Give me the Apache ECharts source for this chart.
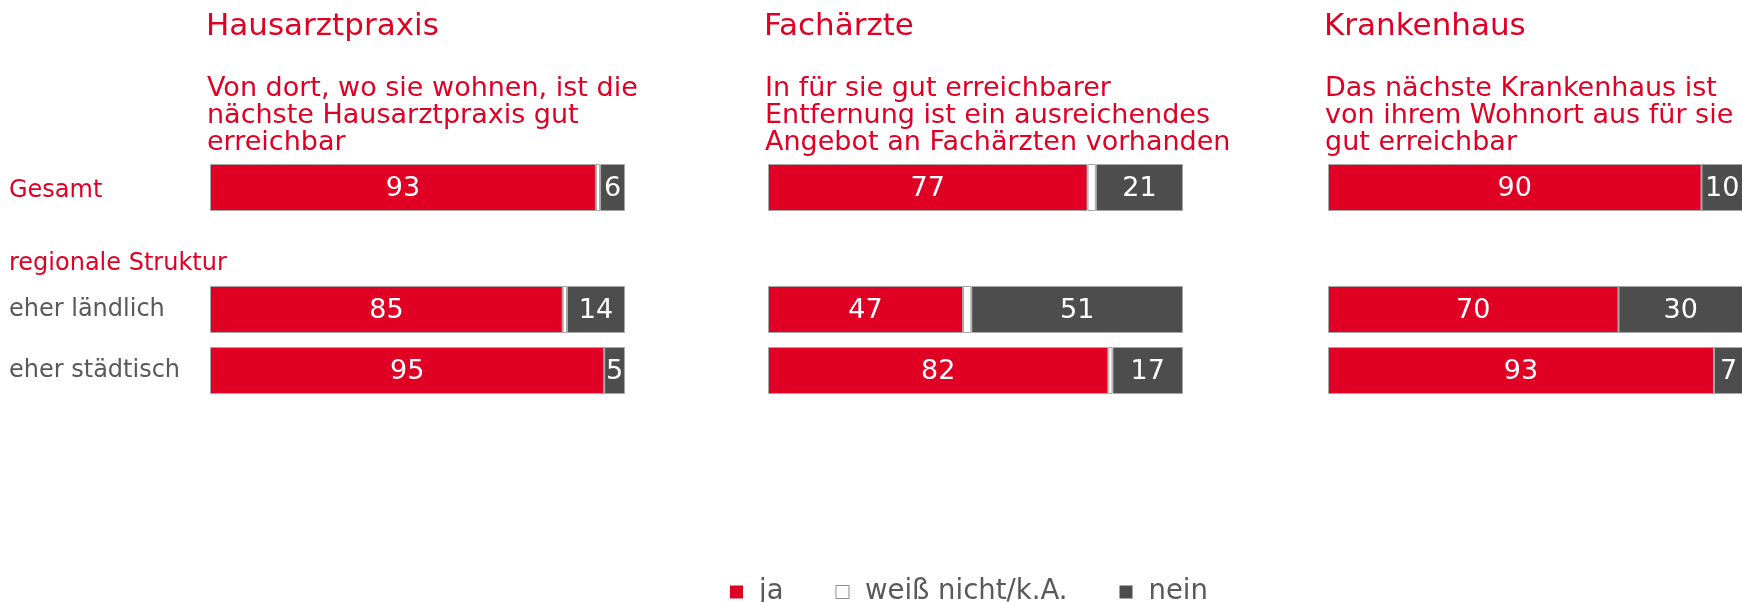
<!DOCTYPE html>
<html>
<head>
<meta charset="utf-8">
<script src="https://cdn.jsdelivr.net/npm/echarts@6/dist/echarts.min.js"></script>
<style>
  html, body { margin: 0; padding: 0; background: #fff; }
  #chart { width: 1742px; height: 602px; }
</style>
</head>
<body>
<div id="chart"></div>
<script>
// Daten
const categories = ['Gesamt', 'regionale Struktur', 'eher ländlich', 'eher städtisch']
const panelTitles = ['Hausarztpraxis', 'Fachärzte', 'Krankenhaus']
const panelQuestions = [
  'Von dort, wo sie wohnen, ist die\nnächste Hausarztpraxis gut\nerreichbar',
  'In für sie gut erreichbarer\nEntfernung ist ein ausreichendes\nAngebot an Fachärzten vorhanden',
  'Das nächste Krankenhaus ist\nvon ihrem Wohnort aus für sie\ngut erreichbar'
]
const legendNames = ['ja', 'weiß nicht/k.A.', 'nein']

const jaHausarzt = [93, null, 85, 95]
const wnHausarzt = [1, null, 1, 0]
const neinHausarzt = [6, null, 14, 5]

const jaFacharzt = [77, null, 47, 82]
const wnFacharzt = [2, null, 2, 1]
const neinFacharzt = [21, null, 51, 17]

const jaKrankenhaus = [90, null, 70, 93]
const wnKrankenhaus = [0, null, 0, 0]
const neinKrankenhaus = [10, null, 30, 7]

const panels = [
  [jaHausarzt, wnHausarzt, neinHausarzt],
  [jaFacharzt, wnFacharzt, neinFacharzt],
  [jaKrankenhaus, wnKrankenhaus, neinKrankenhaus]
]

const RED = '#E00024'
const DARK = '#4D4D4D'
const GRAY_TEXT = '#595959'
const BORDER = '#A6A6A6'
const FONT = 'DejaVu Sans'
const panelLeft = [210, 768, 1328]

const myChart = echarts.init(document.getElementById('chart'))

const titles = []
const grids = []
const xAxes = []
const yAxes = []
const series = []

panels.forEach((p, i) => {
  titles.push({
    text: panelTitles[i],
    left: panelLeft[i] - 4,
    top: 11,
    padding: 0,
    textStyle: { color: RED, fontSize: 31, fontWeight: 'normal', fontFamily: FONT, lineHeight: 31 }
  })
  titles.push({
    text: panelQuestions[i],
    left: panelLeft[i] - 3,
    top: 75,
    padding: 0,
    textStyle: { color: RED, fontSize: 27, fontWeight: 'normal', fontFamily: FONT, lineHeight: 27 }
  })
  grids.push({ left: panelLeft[i], width: 415, top: 157, height: 244, outerBoundsMode: 'none', containLabel: false })
  xAxes.push({ type: 'value', gridIndex: i, min: 0, max: 100, show: false })
  yAxes.push({
    type: 'category',
    gridIndex: i,
    inverse: true,
    data: categories,
    axisLine: { show: false },
    axisTick: { show: false },
    splitLine: { show: false },
    axisLabel: {
      show: i === 0,
      align: 'left',
      margin: panelLeft[0] - 9,
      fontSize: 24,
      fontFamily: FONT,
      color: GRAY_TEXT,
      formatter: function (v) {
        if (v === 'Gesamt') return '{g|' + v + '}'
        if (v === 'regionale Struktur') return '{r|' + v + '}'
        return v
      },
      rich: {
        g: { fontSize: 24, fontFamily: FONT, color: RED, align: 'left', padding: [7, 0, 0, 0] },
        r: { fontSize: 24, fontFamily: FONT, color: RED, align: 'left', padding: [31, 0, 0, 0] }
      }
    }
  })
  const colors = [RED, '#FFFFFF', DARK]
  p.forEach((vals, s) => {
    series.push({
      name: legendNames[s],
      type: 'bar',
      stack: 'p' + i,
      xAxisIndex: i,
      yAxisIndex: i,
      barWidth: 47,
      data: vals,
      itemStyle: { color: colors[s], borderColor: BORDER, borderWidth: 1 },
      label: {
        show: s !== 1,
        position: 'inside',
        offset: [0, 1],
        color: '#fff',
        fontSize: 27,
        fontFamily: FONT,
        formatter: function (params) {
          return params.value ? params.value : ''
        }
      },
      emphasis: { disabled: true }
    })
  })
})

myChart.setOption({
  animation: false,
  title: titles,
  grid: grids,
  xAxis: xAxes,
  yAxis: yAxes,
  legend: {
    data: [
      { name: 'ja', itemStyle: { borderWidth: 0 } },
      { name: 'weiß nicht/k.A.', itemStyle: { borderColor: '#8C8C8C', borderWidth: 1 } },
      { name: 'nein', itemStyle: { borderWidth: 0 } }
    ],
    left: 725,
    top: 573,
    icon: 'rect',
    itemWidth: 13,
    itemHeight: 13,
    itemGap: 52,
    textStyle: { color: GRAY_TEXT, fontSize: 27.5, fontFamily: FONT, padding: [0, 0, 0, 11] }
  },
  series: series
})
</script>
</body>
</html>
